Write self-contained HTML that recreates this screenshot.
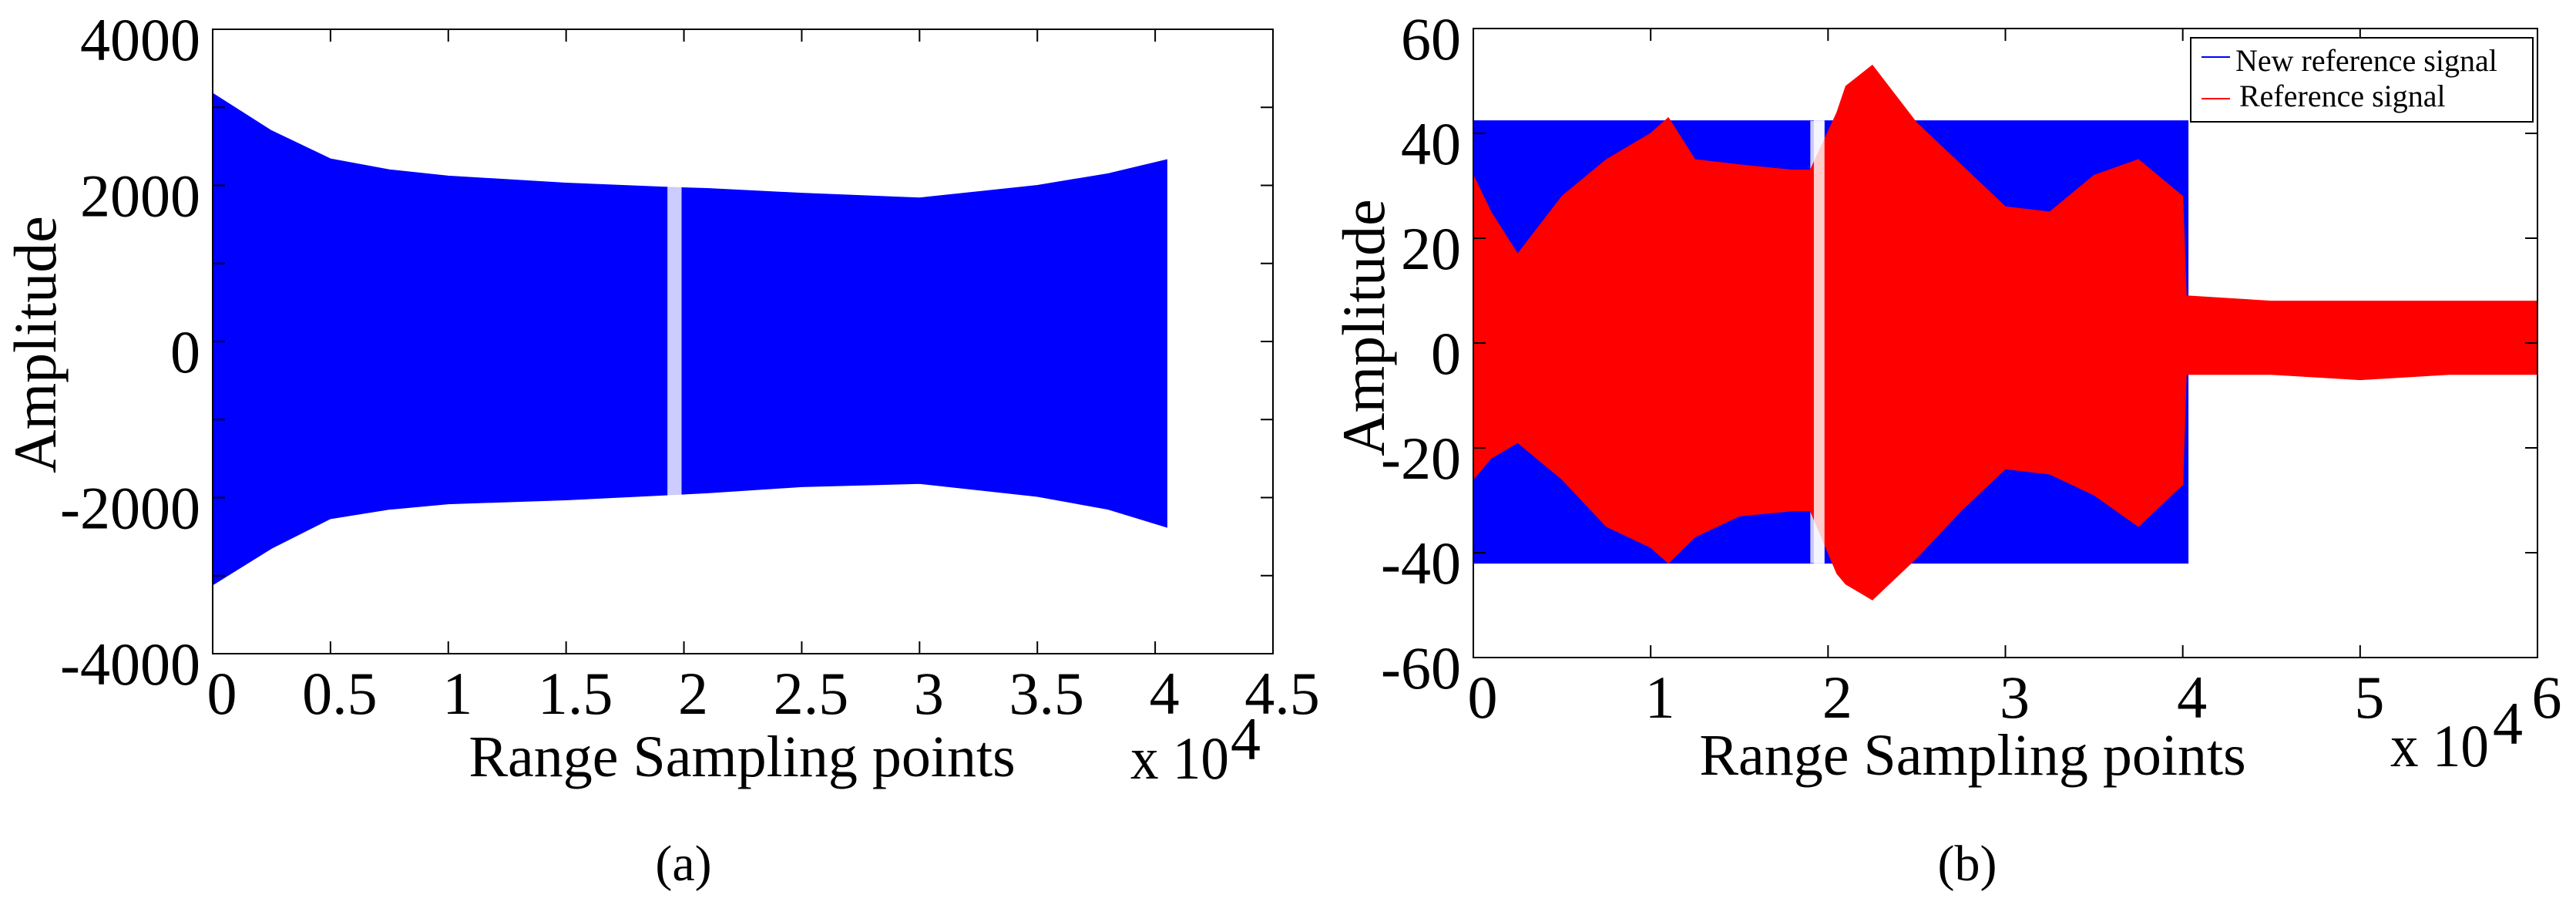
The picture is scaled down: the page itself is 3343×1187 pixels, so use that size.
<!DOCTYPE html>
<html><head><meta charset="utf-8"><style>
html,body{margin:0;padding:0;background:#fff;}
svg{display:block;font-family:"Liberation Serif",serif;}
</style></head><body>
<svg id="fig" width="3343" height="1187" viewBox="0 0 3343 1187" xmlns="http://www.w3.org/2000/svg">
<g id="pa"></g>
<g id="pb"></g>
</svg>
<script>
// ---- Chart (a) data (x in units of 1e4) ----
const aX = [0, 0.25, 0.5, 0.75, 1, 1.5, 1.9, 2.1, 2.5, 3, 3.5, 3.8, 4.05];
const aUpper = [3180, 2700, 2340, 2200, 2120, 2030, 1980, 1960, 1900, 1840, 2000, 2150, 2330];
const aLower = [-3120, -2650, -2270, -2150, -2080, -2030, -1970, -1940, -1860, -1820, -1985, -2150, -2380];
const aXTicks = [0, 0.5, 1, 1.5, 2, 2.5, 3, 3.5, 4, 4.5];
const aXTickLabels = ["0", "0.5", "1", "1.5", "2", "2.5", "3", "3.5", "4", "4.5"];
const aYTicks = [-4000, -3000, -2000, -1000, 0, 1000, 2000, 3000, 4000];
const aYTickLabels = {"-4000":"-4000","-2000":"-2000","0":"0","2000":"2000","4000":"4000"};

// ---- Chart (b) data ----
const bBlueX = [0, 4.03];
const bBlueUpper = [42.4, 42.4];
const bBlueLower = [-42, -42];
const bRedX = [0, 0.1, 0.25, 0.5, 0.75, 1, 1.1, 1.25, 1.5, 1.8, 1.9, 2.05, 2.1, 2.25, 2.5, 2.75, 3, 3.25, 3.5, 3.75, 4.0, 4.02, 4.5, 5, 5.5, 6];
const bRedUpper = [32, 25, 17, 28, 35, 40, 43, 35, 34, 33, 33, 44, 49, 53, 42, 34, 26, 25, 32, 35, 28, 9, 8, 8, 8, 8];
const bRedLower = [-26, -22, -19, -26, -35, -39, -42, -37, -33, -32, -32, -44, -46, -49, -41, -32, -24, -25, -29, -35, -27, -6, -6, -7, -6, -6];
const bXTicks = [0, 1, 2, 3, 4, 5, 6];
const bXTickLabels = ["0", "1", "2", "3", "4", "5", "6"];
const bYTicks = [-60, -40, -20, 0, 20, 40, 60];
const bYTickLabels = ["-60", "-40", "-20", "0", "20", "40", "60"];

const NS = "http://www.w3.org/2000/svg";
function mk(parent, tag, attrs, text) {
  const e = document.createElementNS(NS, tag);
  for (const k in attrs) e.setAttribute(k, attrs[k]);
  if (text !== undefined) e.textContent = text;
  parent.appendChild(e);
  return e;
}
function scale(d0, d1, r0, r1) { return v => r0 + (v - d0) / (d1 - d0) * (r1 - r0); }

function envelope(g, xs, up, lo, sx, sy, color, name, gapFrom, gapTo) {
  let d = "";
  xs.forEach((x, i) => { d += (i ? "L" : "M") + sx(x) + "," + sy(up[i]); });
  for (let k = xs.length - 1; k >= 0; k--) d += "L" + sx(xs[k]) + "," + sy(lo[k]);
  d += "Z";
  const p = mk(g, "path", {d: d, fill: color, stroke: color, "stroke-width": 1});
  
  
  if (gapFrom !== undefined) {
    const top = sy(Math.max(...up)), bot = sy(Math.min(...lo));
    const r = mk(g, "rect", {x: sx(gapFrom), y: top, width: sx(gapTo) - sx(gapFrom), height: bot - top, fill: "#fff", opacity: 0.8});
    
    
  }
}

function axes(g, L, R, T, B, sx, sy, xt, xtl, yt, ytl, tickLen) {
  const box = mk(g, "rect", {x: L, y: T, width: R - L, height: B - T, fill: "none", stroke: "#000", "stroke-width": 2});
  
  
  xt.forEach((v, i) => {
    const x = sx(v);
    mk(g, "line", {x1: x, y1: B, x2: x, y2: B - tickLen, stroke: "#000", "stroke-width": 2});
    mk(g, "line", {x1: x, y1: T, x2: x, y2: T + tickLen, stroke: "#000", "stroke-width": 2});
    const t = mk(g, "text", {x: x + 12, y: B + 78, "font-size": 78, "text-anchor": "middle"}, xtl[i]);
    
    
  });
  yt.forEach((v, i) => {
    const y = sy(v);
    mk(g, "line", {x1: L, y1: y, x2: L + tickLen, y2: y, stroke: "#000", "stroke-width": 2});
    mk(g, "line", {x1: R, y1: y, x2: R - tickLen, y2: y, stroke: "#000", "stroke-width": 2});
    const lab = Array.isArray(ytl) ? ytl[i] : ytl[String(v)];
    if (lab !== undefined) {
      const t = mk(g, "text", {x: L - 16, y: y + 40, "font-size": 78, "text-anchor": "end"}, lab);
      
      
    }
  });
}

// ---- Chart (a) ----
(function(){
  const g = document.getElementById('pa');
  const L = 276, R = 1652, T = 38, B = 848;
  const sx = scale(0, 4.5, L, R), sy = scale(-4000, 4000, B, T);
  envelope(g, aX, aUpper, aLower, sx, sy, "#0000ff", "blue-signal-a", 1.93, 1.99);
  axes(g, L, R, T, B, sx, sy, aXTicks, aXTickLabels, aYTicks, aYTickLabels, 16);
  let t = mk(g, "text", {x: 963, y: 1007, "font-size": 76, "text-anchor": "middle"}, "Range Sampling points");
   
  t = mk(g, "text", {x: 1467, y: 1010, "font-size": 78, textLength: 128, lengthAdjust: "spacingAndGlyphs"}, "x 10");
   
  t = mk(g, "text", {x: 1597, y: 985, "font-size": 78}, "4");
   
  t = mk(g, "text", {x: 72, y: 447, "font-size": 78, "text-anchor": "middle", transform: "rotate(-90 72 447)"}, "Amplitude");
   
  t = mk(g, "text", {x: 887, y: 1142, "font-size": 66, "text-anchor": "middle"}, "(a)");
   
})();

// ---- Chart (b) ----
(function(){
  const g = document.getElementById('pb');
  const L = 1912, R = 3293, T = 37, B = 853;
  const sx = scale(0, 6, L, R), sy = scale(-60, 60, B, T);
  envelope(g, bBlueX, bBlueUpper, bBlueLower, sx, sy, "#0000ff", "new-reference-signal", 1.9, 1.98);
  envelope(g, bRedX, bRedUpper, bRedLower, sx, sy, "#ff0000", "reference-signal", 1.92, 1.98);
  axes(g, L, R, T, B, sx, sy, bXTicks, bXTickLabels, bYTicks, bYTickLabels, 16);
  let t = mk(g, "text", {x: 2560, y: 1005, "font-size": 76, "text-anchor": "middle"}, "Range Sampling points");
   
  t = mk(g, "text", {x: 3102, y: 994, "font-size": 78, textLength: 128, lengthAdjust: "spacingAndGlyphs"}, "x 10");
   
  t = mk(g, "text", {x: 3235, y: 965, "font-size": 78}, "4");
   
  t = mk(g, "text", {x: 1796, y: 425, "font-size": 78, "text-anchor": "middle", transform: "rotate(-90 1796 425)"}, "Amplitude");
   
  t = mk(g, "text", {x: 2553, y: 1142, "font-size": 66, "text-anchor": "middle"}, "(b)");
   
  // legend
  const lg = mk(g, "g", {});
  
  
  mk(lg, "rect", {x: 2843, y: 49, width: 444, height: 109, fill: "#fff", stroke: "#000", "stroke-width": 2});
  mk(lg, "line", {x1: 2857, y1: 74, x2: 2894, y2: 74, stroke: "#0000ff", "stroke-width": 2});
  mk(lg, "line", {x1: 2857, y1: 128, x2: 2894, y2: 128, stroke: "#ff0000", "stroke-width": 2});
  t = mk(lg, "text", {x: 2901, y: 92, "font-size": 40}, "New reference signal");
   
  t = mk(lg, "text", {x: 2906, y: 138, "font-size": 40}, "Reference signal");
   
})();
</script>
</body></html>
